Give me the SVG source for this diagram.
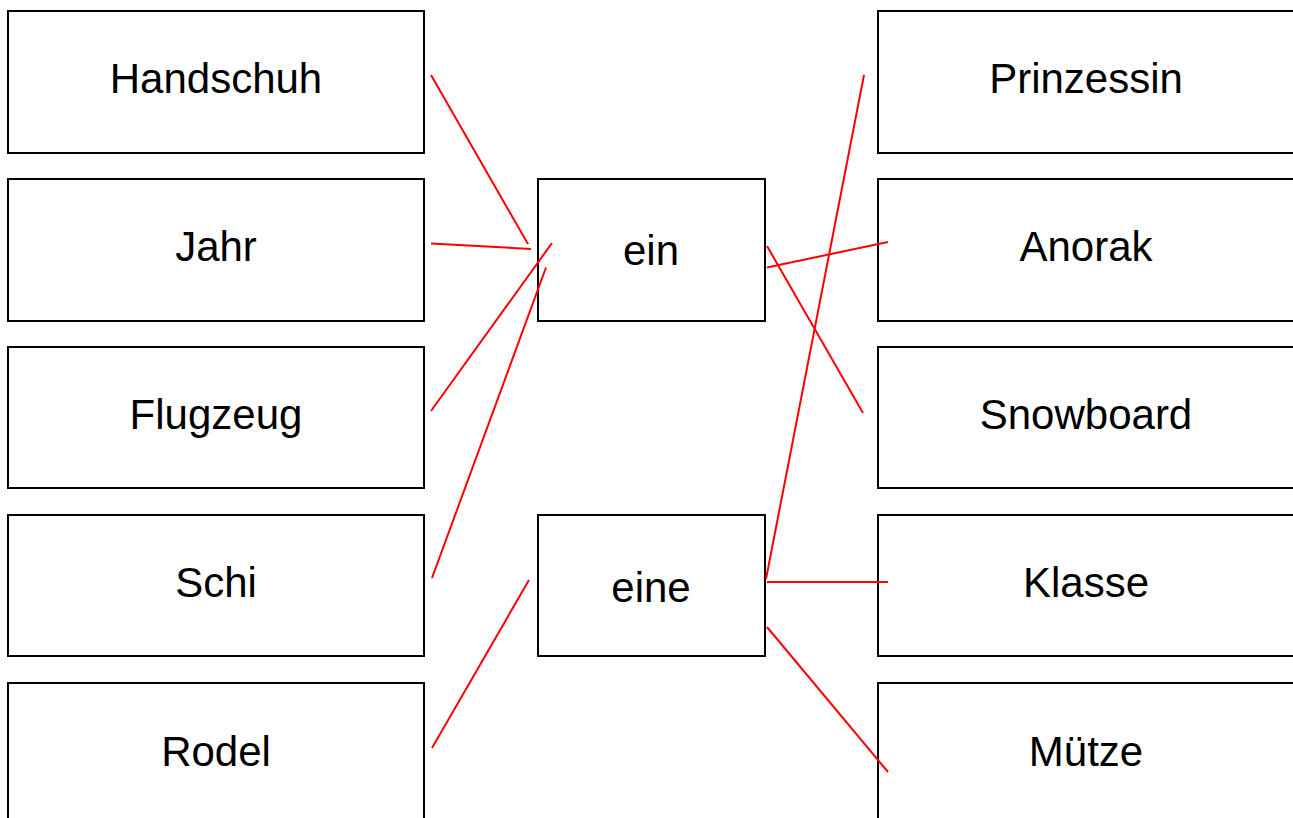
<svg xmlns="http://www.w3.org/2000/svg" width="1293" height="818" viewBox="0 0 1293 818">
<style>
.box{fill:#fff;stroke:#000;stroke-width:2}
.t{font-family:"Liberation Sans",Arial,sans-serif;font-size:42px;text-anchor:middle;fill:#000}
.c line{stroke:#ff0000;stroke-width:2}
</style>
<rect width="1293" height="818" fill="#fff"/>
<g id="n-handschuh"><rect class="box" x="8" y="11" width="416" height="142"/><text class="t" x="216" y="93">Handschuh</text></g>
<g id="n-jahr"><rect class="box" x="8" y="179" width="416" height="142"/><text class="t" x="216" y="261">Jahr</text></g>
<g id="n-flugzeug"><rect class="box" x="8" y="347" width="416" height="141"/><text class="t" x="216" y="429">Flugzeug</text></g>
<g id="n-schi"><rect class="box" x="8" y="515" width="416" height="141"/><text class="t" x="216" y="597">Schi</text></g>
<g id="n-rodel"><rect class="box" x="8" y="683" width="416" height="150"/><text class="t" x="216" y="766">Rodel</text></g>
<g id="n-ein"><rect class="box" x="538" y="179" width="227" height="142"/><text class="t" x="651" y="265">ein</text></g>
<g id="n-eine"><rect class="box" x="538" y="515" width="227" height="141"/><text class="t" x="651" y="602">eine</text></g>
<g id="n-prinzessin"><rect class="box" x="878" y="11" width="430" height="142"/><text class="t" x="1086" y="93">Prinzessin</text></g>
<g id="n-anorak"><rect class="box" x="878" y="179" width="430" height="142"/><text class="t" x="1086" y="261">Anorak</text></g>
<g id="n-snowboard"><rect class="box" x="878" y="347" width="430" height="141"/><text class="t" x="1086" y="429">Snowboard</text></g>
<g id="n-klasse"><rect class="box" x="878" y="515" width="430" height="141"/><text class="t" x="1086" y="597">Klasse</text></g>
<g id="n-muetze"><rect class="box" x="878" y="683" width="430" height="150"/><text class="t" x="1086" y="766">Mütze</text></g>
<g id="connectors" class="c">
<line x1="431" y1="75" x2="528" y2="244"/>
<line x1="431" y1="243.5" x2="531" y2="249"/>
<line x1="431" y1="411" x2="552" y2="243"/>
<line x1="432" y1="578" x2="546" y2="267.5"/>
<line x1="432" y1="748" x2="529" y2="580"/>
<line x1="864" y1="75" x2="766" y2="579"/>
<line x1="767" y1="267.5" x2="888" y2="242"/>
<line x1="767" y1="246" x2="863" y2="413"/>
<line x1="767" y1="582" x2="888" y2="582"/>
<line x1="767" y1="627" x2="888" y2="772"/>
</g>
</svg>
